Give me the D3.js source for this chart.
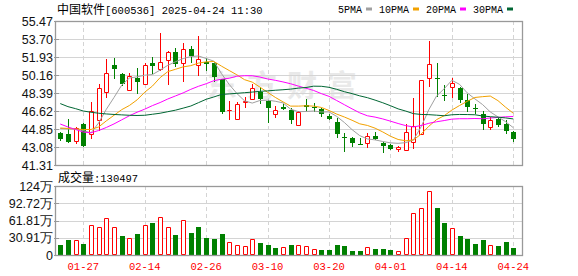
<!DOCTYPE html>
<html>
<head>
<meta charset="utf-8">
<script src="https://cdn.jsdelivr.net/npm/d3@7"></script>
<style>
  html, body { margin: 0; padding: 0; background: #fff; }
  svg { display: block; }
</style>
</head>
<body>
<svg id="chart" width="578" height="276"></svg>
<script>
// Daily K-line for 中国软件 (600536), 60 trading days, volume in 万 lots

const dates = ["01-22","01-23","01-24","01-27","02-05","02-06","02-07","02-10","02-11","02-12",
  "02-13","02-14","02-17","02-18","02-19","02-20","02-21","02-24","02-25","02-26",
  "02-27","02-28","03-03","03-04","03-05","03-06","03-07","03-10","03-11","03-12",
  "03-13","03-14","03-17","03-18","03-19","03-20","03-21","03-24","03-25","03-26",
  "03-27","03-28","03-31","04-01","04-02","04-03","04-07","04-08","04-09","04-10",
  "04-11","04-14","04-15","04-16","04-17","04-18","04-21","04-22","04-23","04-24"]

const open = [44.43,44.36,43.64,45.31,44.33,45.74,48.52,51.14,50.26,48.69,
  49.87,49.25,51.37,50.72,51.64,52.38,51.37,52.72,51.11,51.44,
  51.37,49.74,46.70,45.86,47.53,47.83,48.52,47.63,46.30,46.98,
  46.72,45.21,47.17,47.00,46.79,46.13,45.51,44.04,43.93,43.40,
  43.44,44.19,43.50,43.24,42.88,42.79,43.54,44.36,49.83,49.85,
  48.20,49.01,48.91,47.70,46.90,46.30,45.08,45.80,45.34,44.56]

const high = [44.55,45.80,45.08,45.40,47.53,49.28,51.70,51.80,50.35,50.40,
  50.82,51.37,51.96,54.32,52.50,52.80,53.34,53.01,54.00,51.80,
  51.47,49.80,47.60,47.50,47.97,49.27,48.95,47.70,47.11,47.27,
  46.88,46.60,47.77,47.44,46.90,46.30,45.90,44.43,44.10,43.93,
  44.43,44.59,43.60,43.40,43.18,45.31,47.87,49.70,53.50,51.37,
  49.16,49.90,49.00,48.29,47.30,46.62,46.06,46.00,45.74,44.62]

const low = [43.80,43.55,43.50,43.15,43.99,44.75,48.03,49.84,49.22,48.69,
  48.42,49.25,50.39,50.65,49.27,51.00,49.60,51.47,50.16,50.65,
  49.60,46.40,45.80,45.86,46.98,47.83,47.44,45.56,46.00,46.84,
  45.41,45.21,46.60,46.65,46.15,45.80,44.03,42.72,43.20,43.35,
  43.05,43.90,42.56,42.85,42.72,42.79,42.95,44.36,49.11,48.10,
  47.70,48.03,47.53,46.65,46.45,44.82,44.88,45.15,44.49,43.70]

const close = [43.90,43.60,44.98,43.21,46.59,48.85,50.33,50.78,49.27,50.06,
  49.47,51.11,51.07,51.47,52.45,51.20,52.69,52.03,51.76,51.21,
  49.93,46.52,46.75,47.28,47.60,48.85,47.77,46.94,46.72,46.84,
  45.74,46.55,46.98,46.99,46.33,45.80,44.33,44.00,43.50,43.35,
  44.16,43.90,43.21,42.85,43.08,44.53,45.18,49.70,51.24,49.80,
  48.13,49.34,47.70,47.04,46.85,45.31,45.74,45.27,44.69,43.90]

// volume in 万 (10k lots)
const volume = [17.9,26.8,26.8,19.7,53.0,49.4,65.5,49.4,33.9,29.8,
  37.5,53.0,57.2,67.3,49.4,35.7,62.0,39.3,49.4,30.4,
  28.0,37.5,22.6,17.3,15.5,28.0,21.4,17.9,12.5,13.7,
  17.9,17.3,16.1,10.2,8.9,8.9,17.9,16.1,7.1,7.1,
  13.7,10.7,10.7,8.9,7.1,29.8,74.5,83.4,113.8,84.0,
  57.2,47.7,33.9,28.6,19.7,26.8,17.3,16.1,23.2,13.05]

// moving averages
const ma5 = [44.90,44.85,44.85,44.70,44.46,45.45,46.79,47.95,49.16,49.86,
  49.98,50.14,50.20,50.64,51.11,51.46,51.78,51.97,52.03,51.78,
  51.52,50.29,49.23,48.34,47.62,47.40,47.65,47.69,47.58,47.42,
  46.80,46.56,46.57,46.62,46.52,46.53,46.09,45.49,44.79,44.20,
  43.87,43.78,43.62,43.49,43.44,43.51,43.77,45.07,46.75,48.09,
  48.81,49.64,49.24,48.40,47.81,47.25,46.53,46.04,45.57,44.98]

const ma10 = [44.95,44.90,44.85,44.80,44.80,45.05,45.65,46.20,46.75,47.16,
  47.71,48.47,49.07,49.90,50.49,50.72,50.96,51.08,51.33,51.45,
  51.49,51.03,50.60,50.18,49.70,49.46,48.97,48.46,47.96,47.52,
  47.10,47.10,47.13,47.10,46.97,46.67,46.32,46.03,45.71,45.36,
  45.20,44.93,44.56,44.14,43.82,43.69,43.78,44.35,45.12,45.77,
  46.16,46.71,47.16,47.57,47.95,48.03,48.09,47.64,46.99,46.40]

const ma20 = [45.34,45.05,44.80,44.55,44.48,44.70,45.00,45.35,45.75,46.15,
  46.50,46.80,47.15,47.45,47.80,48.10,48.40,48.75,49.05,49.30,
  49.60,49.75,49.84,50.04,50.09,50.09,49.96,49.77,49.64,49.48,
  49.30,49.07,48.86,48.64,48.33,48.06,47.65,47.24,46.83,46.44,
  46.15,46.02,45.84,45.62,45.39,45.18,45.05,45.19,45.41,45.56,
  45.68,45.82,45.86,45.86,45.88,45.86,45.93,45.99,46.05,46.08]

const ma30 = [47.35,47.05,46.85,46.62,46.50,46.40,46.33,46.28,46.24,46.20,
  46.18,46.20,46.30,46.40,46.55,46.70,46.90,47.11,47.44,47.77,
  48.00,48.25,48.30,48.36,48.42,48.48,48.55,48.60,48.66,48.71,
  48.77,48.87,48.93,49.06,49.05,48.95,48.75,48.52,48.33,48.11,
  47.93,47.69,47.43,47.14,46.83,46.61,46.36,46.28,46.26,46.21,
  46.15,46.25,46.28,46.27,46.25,46.13,46.06,46.01,45.94,45.84]

const priceTicks = [41.31,43.08,44.85,46.62,48.39,50.16,51.93,53.70,55.47]
const volTicks = [0,30.91,61.81,92.72,123.63]
const volTickLabels = ["0","30.91万","61.81万","92.72万","124万"]
const dateTicks = ["01-27","02-14","02-26","03-10","03-20","04-01","04-14","04-24"]

const maSeries = [
  {name: "5PMA", values: ma5, color: "#a0a0a0"},
  {name: "10PMA", values: ma10, color: "#f2a100"},
  {name: "20PMA", values: ma20, color: "#ff00ff"},
  {name: "30PMA", values: ma30, color: "#006633"}
]

const title = {name: "中国软件", rest: "[600536] 2025-04-24 11:30"}
const volTitle = {name: "成交量", rest: ":130497"}

// colours
const UP = "#ff0000", DOWN = "#008000", FRAME = "#999999", GRID = "#d4d4d4"
const MONO = "'Liberation Mono', 'DejaVu Sans Mono', monospace"
const CJK = "'Noto Sans CJK SC', sans-serif"
const SANS = "'Liberation Sans', Arial, sans-serif"

// panel geometry
const left = 55, right = 522
const main = {top: 21, bottom: 165}
const vol = {top: 186, bottom: 255}

const svg = d3.select("#chart")

// scales
const x = d3.scaleLinear().domain([0, dates.length - 1]).range([60.26, 513.3])
const yPrice = d3.scaleLinear().domain([41.31, 55.47]).range([main.bottom, main.top])
const yVol = d3.scaleLinear().domain([0, 123.63]).range([vol.bottom, vol.top])
const px = v => Math.round(v)

const bars = dates.map((d, i) => ({
  i, date: d, open: open[i], high: high[i], low: low[i], close: close[i], vol: volume[i],
  // volume colour follows close vs previous close
  volUp: i == 0 ? close[i] >= open[i] : close[i] >= close[i - 1]
}))

// watermark
svg.append("text")
  .attr("x", 207).attr("y", 96)
  .attr("font-family", CJK).attr("font-size", 30).attr("font-weight", 700)
  .attr("letter-spacing", 10)
  .attr("fill", "#e9e9e9")
  .text("东方财富")

// horizontal grid + left ticks for a panel
const drawGrid = (ticks, scale, labels) => {
  const g = svg.append("g")
  g.selectAll("line.h").data(ticks).enter().append("line")
    .attr("x1", left).attr("x2", right)
    .attr("y1", d => px(scale(d)) + 0.5).attr("y2", d => px(scale(d)) + 0.5)
    .attr("stroke", GRID)
  g.selectAll("line.t").data(ticks).enter().append("line")
    .attr("x1", left - 1).attr("x2", left + 4)
    .attr("y1", d => px(scale(d)) + 0.5).attr("y2", d => px(scale(d)) + 0.5)
    .attr("stroke", FRAME)
  g.selectAll("text").data(ticks).enter().append("text")
    .attr("x", 53).attr("y", d => scale(d) + 4.5)
    .attr("text-anchor", "end")
    .attr("font-family", (d, i) => SANS).attr("font-size", 12.5)
    .attr("fill", "#111")
    .text((d, i) => labels ? labels[i] : d.toFixed(2))
}

drawGrid(priceTicks, yPrice)
drawGrid(volTicks, yVol, volTickLabels)

// vertical dashed date lines in both panels
const tickIdx = dateTicks.map(t => dates.indexOf(t))
;[main, vol].forEach(p => {
  svg.append("g").selectAll("line").data(tickIdx).enter().append("line")
    .attr("x1", i => px(x(i)) + 0.5).attr("x2", i => px(x(i)) + 0.5)
    .attr("y1", p.top).attr("y2", p.bottom)
    .attr("stroke", GRID).attr("stroke-dasharray", "4,3")
})

// date labels
svg.append("g").selectAll("text").data(tickIdx).enter().append("text")
  .attr("x", i => x(i)).attr("y", 270)
  .attr("text-anchor", "middle")
  .attr("font-family", MONO).attr("font-size", 10.5)
  .attr("fill", "#ff0000")
  .text(i => dates[i])

// box outline path helper (works for zero height too)
const boxPath = (x0, y0, x1, y1) => `M${x0},${y0}H${x1}V${y1}H${x0}Z`

// candlesticks
const candles = svg.append("g").selectAll("g").data(bars).enter().append("g")
candles.append("line")
  .attr("x1", d => px(x(d.i)) + 0.5).attr("x2", d => px(x(d.i)) + 0.5)
  .attr("y1", d => px(yPrice(d.high))).attr("y2", d => px(yPrice(d.low)) + 1)
  .attr("stroke", d => d.close > d.open ? UP : DOWN)
candles.filter(d => d.close > d.open).append("path")
  .attr("d", d => {
    const cx = px(x(d.i))
    return boxPath(cx - 1.5, px(yPrice(d.close)) + 0.5, cx + 2.5, px(yPrice(d.open)) + 0.5)
  })
  .attr("fill", "#fff").attr("stroke", UP)
candles.filter(d => d.close <= d.open).append("rect")
  .attr("x", d => px(x(d.i)) - 2)
  .attr("y", d => px(yPrice(d.open)))
  .attr("width", 5)
  .attr("height", d => Math.max(1, px(yPrice(d.close)) - px(yPrice(d.open))))
  .attr("fill", DOWN)

// moving average lines
const line = d3.line().x((v, i) => x(i)).y(v => yPrice(v))
svg.append("g").selectAll("path").data(maSeries).enter().append("path")
  .attr("d", d => line(d.values))
  .attr("fill", "none")
  .attr("stroke", d => d.color)
  .attr("stroke-width", 1)

// volume bars
const vbars = svg.append("g").selectAll("g").data(bars).enter().append("g")
vbars.filter(d => d.volUp).append("path")
  .attr("d", d => {
    const cx = px(x(d.i))
    return boxPath(cx - 1.5, px(yVol(d.vol)) + 0.5, cx + 2.5, vol.bottom - 0.5)
  })
  .attr("fill", "#fff").attr("stroke", UP)
vbars.filter(d => !d.volUp).append("rect")
  .attr("x", d => px(x(d.i)) - 2)
  .attr("y", d => px(yVol(d.vol)))
  .attr("width", 5)
  .attr("height", d => vol.bottom - px(yVol(d.vol)))
  .attr("fill", DOWN)

// panel frames
;[main, vol].forEach(p => {
  svg.append("rect")
    .attr("x", left + 0.5).attr("y", p.top + 0.5)
    .attr("width", right - left).attr("height", p.bottom - p.top)
    .attr("fill", "none").attr("stroke", FRAME).attr("stroke-width", 1.3)
})

// titles: CJK part in 12px, latin part monospaced
const drawTitle = (t, xx, yy) => {
  const txt = svg.append("text").attr("x", xx).attr("y", yy).attr("fill", "#000")
  txt.append("tspan").attr("font-family", CJK).attr("font-size", 12).text(t.name)
  txt.append("tspan").attr("font-family", MONO).attr("font-size", 10.5).text(t.rest)
}
drawTitle(title, 57, 14)
drawTitle(volTitle, 58, 182)

// legend
let lx = 338
maSeries.forEach(s => {
  svg.append("text")
    .attr("x", lx).attr("y", 13)
    .attr("font-family", MONO).attr("font-size", 10)
    .attr("fill", "#000")
    .text(s.name)
  lx += s.name.length * 6 + 4
  svg.append("rect")
    .attr("x", lx).attr("y", 7.5).attr("width", 6).attr("height", 3)
    .attr("fill", s.color)
  lx += 6 + 7
})
</script>
</body>
</html>
